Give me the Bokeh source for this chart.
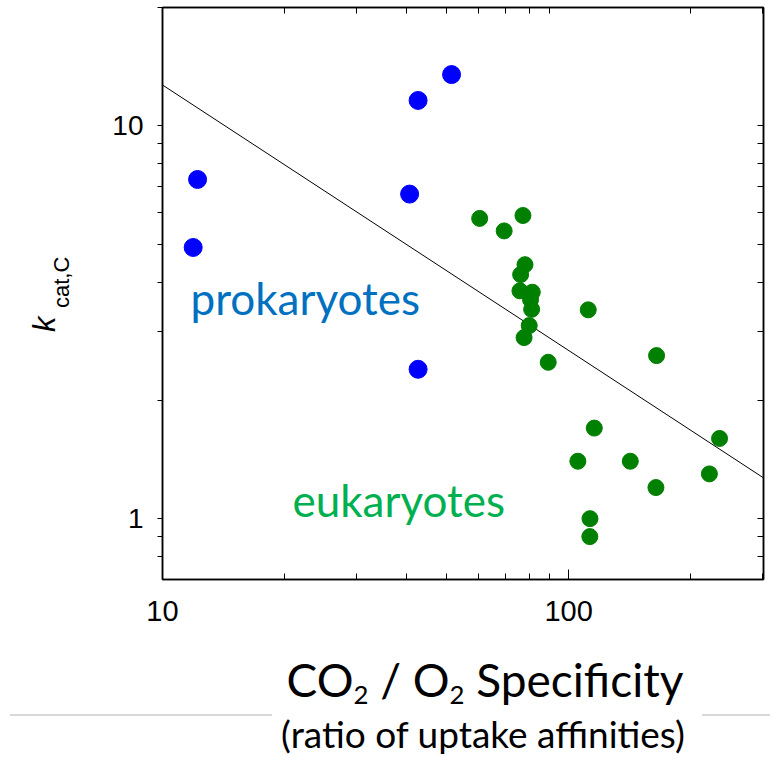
import math
from bokeh.plotting import figure
from bokeh.layouts import column, row
from bokeh.models import (LogAxis, FixedTicker, Label, Range1d, Div,
                          NumeralTickFormatter)
from bokeh.embed import file_html
from bokeh.resources import INLINE

# ---------------- data ----------------
prok_x = [12.2, 11.9, 40.6, 42.6, 51.5, 42.6]
prok_y = [7.3, 4.9, 6.7, 11.6, 13.5, 2.4]

euk_x = [60.4, 69.4, 77.2, 78.1, 76.2, 75.9, 81.4, 80.6, 81.1, 80.0, 77.7,
         111.8, 89.1, 164.7, 115.7, 105.4, 141.9, 164.1, 235.4, 222.2, 112.9, 112.8]
euk_y = [5.81, 5.40, 5.91, 4.43, 4.18, 3.80, 3.77, 3.61, 3.41, 3.10, 2.89,
         3.40, 2.50, 2.60, 1.70, 1.40, 1.40, 1.20, 1.60, 1.30, 1.00, 0.90]

fit_x = [10, 302]
fit_y = [12.7, 1.27]

x_major = [10, 100]
x_minor = [20, 30, 40, 50, 60, 70, 80, 90, 200, 300]
y_major = [1, 10]
y_minor = [0.8, 0.9, 2, 3, 4, 5, 6, 7, 8, 9, 20]

X_RANGE = (10, 302)
Y_RANGE = (0.70, 20)

# ---------------- geometry (page pixels) ----------------
W, H = 770, 757
LEFT_W = 100          # width of the y-title strip
TOP_H = 660           # height of the plot row
FL, FR, FT, FB = 162, 763, 7, 579   # plot frame


def dx(px):
    a, b = math.log10(X_RANGE[0]), math.log10(X_RANGE[1])
    return 10 ** (a + (px - FL) / (FR - FL) * (b - a))


def dy(py):
    a, b = math.log10(Y_RANGE[0]), math.log10(Y_RANGE[1])
    return 10 ** (a + (FB - py) / (FB - FT) * (b - a))


# ---------------- main plot ----------------
p = figure(width=W - LEFT_W, height=TOP_H, x_axis_type="log", y_axis_type="log",
           x_range=Range1d(*X_RANGE), y_range=Range1d(*Y_RANGE),
           output_backend="svg", toolbar_location=None,
           min_border_left=FL - LEFT_W, min_border_right=W - FR,
           min_border_top=FT, min_border_bottom=TOP_H - FB)

p.grid.visible = False
p.outline_line_color = "black"
p.outline_line_width = 1.5
p.border_fill_color = "white"

xa = p.xaxis[0]
xa.ticker = FixedTicker(ticks=x_major, minor_ticks=x_minor)
xa.formatter = NumeralTickFormatter(format="0")
xa.major_tick_in = 10
xa.major_tick_out = 0
xa.minor_tick_in = 6
xa.minor_tick_out = 0
xa.axis_line_color = "black"
xa.axis_line_width = 1.5
xa.major_label_text_font = "Liberation Sans"
xa.major_label_text_font_size = "29px"
xa.major_label_text_color = "black"
xa.major_label_standoff = 21

ya = p.yaxis[0]
ya.ticker = FixedTicker(ticks=y_major, minor_ticks=y_minor)
ya.formatter = NumeralTickFormatter(format="0")
ya.major_tick_in = 0
ya.major_tick_out = 5
ya.minor_tick_in = 0
ya.minor_tick_out = 5
ya.axis_line_color = "black"
ya.axis_line_width = 1.5
ya.major_label_text_font = "Liberation Sans"
ya.major_label_text_font_size = "28px"
ya.major_label_text_color = "black"
ya.major_label_standoff = 14

ra = LogAxis(ticker=FixedTicker(ticks=[], minor_ticks=y_major + y_minor),
             minor_tick_in=6, minor_tick_out=0, major_tick_in=0, major_tick_out=0,
             major_label_standoff=0, axis_line_color="black", axis_line_width=1.5)
p.add_layout(ra, "right")

ta = LogAxis(ticker=FixedTicker(ticks=[], minor_ticks=x_minor),
             minor_tick_in=6, minor_tick_out=0, major_tick_in=0, major_tick_out=0,
             major_label_standoff=0, axis_line_color="black", axis_line_width=1.5)
p.add_layout(ta, "above")

p.line(fit_x, fit_y, line_color="black", line_width=1)
p.scatter(euk_x, euk_y, size=16, fill_color="#008000", line_color="#008000")
p.scatter(prok_x, prok_y, size=18, fill_color="#0000FF", line_color="#0000FF")

p.add_layout(Label(x=dx(190), y=dy(297), text="prokaryotes", text_font="Lato",
                   text_font_size="44px", text_color="#0070C0",
                   text_align="left", text_baseline="alphabetic"))
p.add_layout(Label(x=dx(292), y=dy(499), text="eukaryotes", text_font="Lato",
                   text_font_size="44px", text_color="#00B050",
                   text_align="left", text_baseline="alphabetic"))

# ---------------- y title strip (HTML, rotated) ----------------
ROT = "position:absolute;transform:rotate(-90deg);transform-origin:0 0;white-space:nowrap;color:#000;"
ytitle_html = (
    f'<div style="position:relative;width:{LEFT_W}px;height:{TOP_H}px;">'
    f'<div style="{ROT}left:29px;top:332px;font-family:\'Liberation Sans\';'
    'font-style:italic;font-size:31px;line-height:31px;">k</div>'
    f'<div style="{ROT}left:51px;top:308px;font-family:\'Liberation Sans\';'
    'font-size:22px;line-height:22px;">cat,C</div>'
    '</div>'
)
yl = Div(text=ytitle_html, width=LEFT_W, height=TOP_H, margin=0)

# ---------------- x title strip (HTML) ----------------
bh = H - TOP_H
SUB = "font-size:0.56em;vertical-align:-0.26em;line-height:0;"
xtitle_html = (
    f'<div style="position:relative;width:{W}px;height:{bh}px;">'
    '<div style="position:absolute;left:10px;top:54px;width:262px;height:2px;background:#d9d9d9;"></div>'
    '<div style="position:absolute;left:702px;top:54px;width:68px;height:2px;background:#d9d9d9;"></div>'
    '<div style="position:absolute;left:485px;top:-3px;transform:translateX(-50%);white-space:nowrap;'
    'font-family:Lato;font-size:46px;line-height:46px;color:#000;">'
    f'CO<span style="{SUB}">2</span> / O<span style="{SUB}">2</span> Specificity</div>'
    '<div style="position:absolute;left:483px;top:55px;transform:translateX(-50%);white-space:nowrap;'
    'font-family:Lato;font-size:37px;line-height:37px;color:#000;">(ratio of uptake affinities)</div>'
    '</div>'
)
xl = Div(text=xtitle_html, width=W, height=bh, margin=0)

layout = column(row(yl, p, spacing=0), xl, spacing=0)
open("out.html", "w").write(file_html(layout, INLINE))
